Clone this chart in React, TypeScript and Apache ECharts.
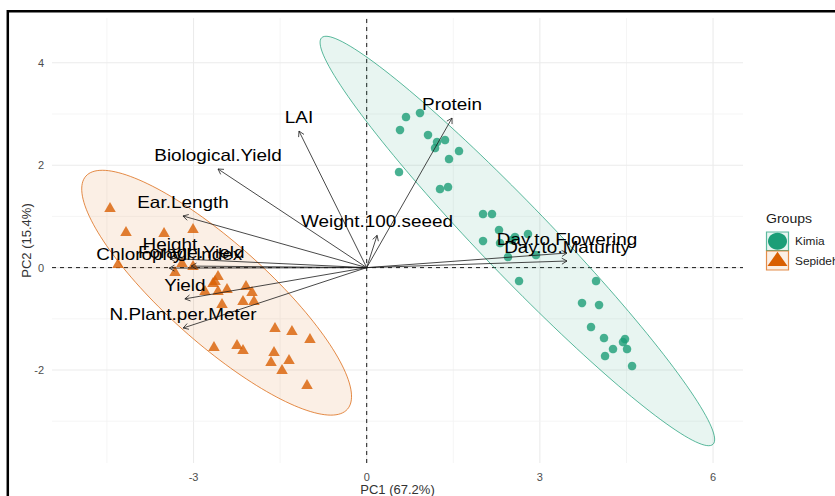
import React, { useEffect, useRef } from "react";
import * as echarts from "echarts";

const FONT = '"Liberation Sans", Arial, Helvetica, sans-serif';

// Kimia individuals (PC1, PC2)
const kimiaX = [0.681, 0.923, 0.577, 1.062, 1.218, 1.357, 1.184, 1.599, 1.426, 0.56, 1.27, 1.409, 2.015, 2.171, 2.292, 2.015, 2.569, 2.517, 2.794, 2.448, 2.933, 2.639, 3.973, 3.73, 4.025, 3.886, 4.111, 4.475, 4.44, 4.267, 4.51, 4.129, 4.597, 2.31];
const kimiaY = [2.941, 3.02, 2.688, 2.59, 2.453, 2.492, 2.336, 2.277, 2.121, 1.867, 1.535, 1.574, 1.047, 1.047, 0.734, 0.52, 0.598, 0.539, 0.656, 0.207, 0.246, -0.262, -0.262, -0.691, -0.73, -1.16, -1.375, -1.395, -1.453, -1.59, -1.59, -1.727, -1.922, 0.48];

// Sepideh individuals (PC1, PC2)
const sepidehX = [-4.447, -4.17, -3.511, -3.009, -4.309, -3.321, -3.2, -3.009, -2.576, -2.663, -2.42, -2.576, -2.802, -2.507, -2.091, -1.987, -2.143, -1.953, -1.589, -1.295, -0.983, -2.646, -2.247, -2.143, -1.606, -1.658, -1.346, -1.467, -1.034, -2.628];
const sepidehY = [1.184, 0.715, 0.695, 0.773, 0.09, -0.066, 0.109, 0.051, -0.145, -0.281, -0.398, -0.438, -0.438, -0.691, -0.34, -0.457, -0.633, -0.633, -1.16, -1.219, -1.375, -1.531, -1.492, -1.59, -1.629, -1.824, -1.785, -1.98, -2.273, -0.242];

// Variables (loadings arrows)
const varNames = ["LAI", "Biological.Yield", "Ear.Length", "Weight.100.seeed", "Protein", "Day.to.Flowering", "Day.to.Maturity", "Chlorophyll.Index", "Height", "Forage.Yield", "Yield", "N.Plant.per.Meter"];
const varX = [-1.173, -2.576, -3.183, 0.18, 1.478, 3.47, 3.47, -3.42, -3.41, -3.04, -3.15, -3.18];
const varY = [2.666, 1.926, 1.008, 0.63, 2.92, 0.285, 0.129, -0.01, 0.18, 0.03, -0.61, -1.18];

// Concentration ellipses: center, major conjugate axis, minor conjugate axis
const groupNames = ["Kimia", "Sepideh"];
const groupColors = ["#1b9e77", "#d95f02"];
const ellipseCenter = [[2.61, 0.52], [-2.6, -0.49]];
const ellipseMajor = [[3.39, -3.97], [2.265, -2.277]];
const ellipseMinor = [[0.437, 0.475], [0.577, 0.73]];

// Axes
const xMin = -5.452, xMax = 6.519, yMin = -3.816, yMax = 4.875;
const xTicks = [-3, 0, 3, 6];
const yTicks = [-2, 0, 2, 4];
const xGridMinor = [-4.5, -1.5, 1.5, 4.5];
const yGridMinor = [-3, -1, 1, 3];

const TXT_SX = 1.16;

export default function App() {
  const ref = useRef<HTMLDivElement>(null);
  useEffect(() => {
    if (!ref.current) return;
    const chart = echarts.init(ref.current, undefined, { renderer: "svg" });

    const vLine = (color: string, width: number, dash?: number[]) => (p: any, api: any) => {
      const a = api.coord([api.value(0), yMin]);
      const b = api.coord([api.value(0), yMax]);
      return { type: "line", shape: { x1: a[0], y1: a[1], x2: b[0], y2: b[1] }, style: { stroke: color, lineWidth: width, lineDash: dash } };
    };
    const hLine = (color: string, width: number, dash?: number[]) => (p: any, api: any) => {
      const a = api.coord([xMin, api.value(1)]);
      const b = api.coord([xMax, api.value(1)]);
      return { type: "line", shape: { x1: a[0], y1: a[1], x2: b[0], y2: b[1] }, style: { stroke: color, lineWidth: width, lineDash: dash } };
    };

    const option: any = {
      animation: false,
      backgroundColor: "#ffffff",
      grid: { left: 52, right: 92, top: 18, bottom: 33, containLabel: false, outerBoundsMode: "none" },
      xAxis: {
        type: "value", min: xMin, max: xMax,
        axisLine: { show: false }, axisTick: { show: false }, splitLine: { show: false },
        axisLabel: { customValues: xTicks, color: "#4d4d4d", fontSize: 11, fontFamily: FONT, margin: 8 },
        name: "PC1 (67.2%)", nameLocation: "middle", nameGap: 20, nameMoveOverlap: false,
        nameTextStyle: { color: "#333333", fontSize: 13, fontFamily: FONT },
      },
      yAxis: {
        type: "value", min: yMin, max: yMax,
        axisLine: { show: false }, axisTick: { show: false }, splitLine: { show: false },
        axisLabel: { customValues: yTicks, color: "#4d4d4d", fontSize: 11, fontFamily: FONT, margin: 8 },
        name: "PC2 (15.4%)", nameLocation: "middle", nameGap: 19, nameMoveOverlap: false,
        nameTextStyle: { color: "#333333", fontSize: 13, fontFamily: FONT },
      },
      series: [
        { type: "custom", silent: true, z: 0, data: xTicks.map((v) => [v, 0]), renderItem: vLine("#ebebeb", 1.1) },
        { type: "custom", silent: true, z: 0, data: xGridMinor.map((v) => [v, 0]), renderItem: vLine("#f2f2f2", 0.8) },
        { type: "custom", silent: true, z: 0, data: yTicks.map((v) => [0, v]), renderItem: hLine("#ebebeb", 1.1) },
        { type: "custom", silent: true, z: 0, data: yGridMinor.map((v) => [0, v]), renderItem: hLine("#f2f2f2", 0.8) },
        { type: "custom", silent: true, z: 1, data: [[0, 0]], renderItem: vLine("#000000", 0.9, [4, 4]) },
        { type: "custom", silent: true, z: 1, data: [[0, 0]], renderItem: hLine("#000000", 0.9, [4, 4]) },
        {
          type: "custom", silent: true, z: 2,
          data: groupNames.map((g, i) => [ellipseCenter[i][0], ellipseCenter[i][1]]),
          renderItem: (p: any, api: any) => {
            const i = p.dataIndex;
            const pts: number[][] = [];
            const n = 160;
            for (let k = 0; k < n; k++) {
              const t = (2 * Math.PI * k) / n;
              const c = Math.cos(t), s = Math.sin(t);
              const x = ellipseCenter[i][0] + c * ellipseMajor[i][0] + s * ellipseMinor[i][0];
              const y = ellipseCenter[i][1] + c * ellipseMajor[i][1] + s * ellipseMinor[i][1];
              pts.push(api.coord([x, y]));
            }
            const col = groupColors[i];
            return {
              type: "polygon", shape: { points: pts },
              style: { fill: i === 0 ? "rgba(27,158,119,0.1)" : "rgba(217,95,2,0.1)", stroke: col, lineWidth: 0.9, strokeOpacity: 0.8 },
            };
          },
        },
        {
          type: "scatter", name: "Kimia", z: 3, symbol: "circle", symbolSize: 8.5,
          itemStyle: { color: groupColors[0] },
          data: kimiaX.map((x, i) => [x, kimiaY[i]]),
        },
        {
          type: "scatter", name: "Sepideh", z: 3, symbol: "triangle", symbolSize: [11.5, 10],
          itemStyle: { color: groupColors[1] },
          data: sepidehX.map((x, i) => [x, sepidehY[i]]),
        },
        {
          type: "custom", silent: true, z: 4,
          data: varNames.map((n, i) => [varX[i], varY[i]]),
          renderItem: (p: any, api: any) => {
            const i = p.dataIndex;
            const o = api.coord([0, 0]);
            const t = api.coord([api.value(0), api.value(1)]);
            const dx = t[0] - o[0], dy = t[1] - o[1];
            const L = Math.hypot(dx, dy) || 1;
            const rx = -dx / L, ry = -dy / L;
            const h = 6, ang = Math.PI / 6;
            const ca = Math.cos(ang), sa = Math.sin(ang);
            const b1 = [t[0] + h * (rx * ca - ry * sa), t[1] + h * (rx * sa + ry * ca)];
            const b2 = [t[0] + h * (rx * ca + ry * sa), t[1] + h * (-rx * sa + ry * ca)];
            return {
              type: "group",
              children: [
                { type: "line", shape: { x1: o[0], y1: o[1], x2: t[0], y2: t[1] }, style: { stroke: "#1a1a1a", lineWidth: 0.8 } },
                { type: "polyline", shape: { points: [b1, t, b2] }, style: { stroke: "#1a1a1a", lineWidth: 0.8, fill: "none" } },
                {
                  type: "text", x: t[0], y: t[1] - 13.5, scaleX: TXT_SX,
                  style: { text: varNames[i], x: 0, y: 0, align: "center", verticalAlign: "middle", textAlign: "center", textVerticalAlign: "middle", font: `16.3px ${FONT}`, fill: "#000000" },
                },
              ],
            };
          },
        },
      ],
      graphic: [
        { type: "rect", silent: true, z: 10, shape: { x: 7.8, y: 11.3, width: 900, height: 600 }, style: { fill: "none", stroke: "#000000", lineWidth: 2.5 } },
        { type: "text", z: 10, x: 766, y: 219, scaleX: 1.08, style: { text: "Groups", x: 0, y: 0, align: "left", verticalAlign: "middle", textAlign: "left", textVerticalAlign: "middle", font: `13px ${FONT}`, fill: "#1a1a1a" } },
        { type: "rect", z: 10, shape: { x: 766.5, y: 232, width: 22, height: 18.5 }, style: { fill: "rgba(27,158,119,0.1)", stroke: "#1b9e77", lineWidth: 1.2, strokeOpacity: 0.7 } },
        { type: "ellipse", z: 11, shape: { cx: 777.5, cy: 241.3, rx: 9.5, ry: 8.5 }, style: { fill: "#1b9e77" } },
        { type: "rect", z: 10, shape: { x: 766.5, y: 251, width: 22, height: 19 }, style: { fill: "rgba(217,95,2,0.1)", stroke: "#d95f02", lineWidth: 1.2, strokeOpacity: 0.7 } },
        { type: "polygon", z: 11, shape: { points: [[777.5, 251.8], [767.5, 266], [787.5, 266]] }, style: { fill: "#d95f02" } },
        { type: "text", z: 10, x: 795, y: 241.5, scaleX: 1.08, style: { text: "Kimia", x: 0, y: 0, align: "left", verticalAlign: "middle", textAlign: "left", textVerticalAlign: "middle", font: `11px ${FONT}`, fill: "#1a1a1a" } },
        { type: "text", z: 10, x: 795, y: 261, scaleX: 1.08, style: { text: "Sepideh", x: 0, y: 0, align: "left", verticalAlign: "middle", textAlign: "left", textVerticalAlign: "middle", font: `11px ${FONT}`, fill: "#1a1a1a" } },
      ],
    };
    chart.setOption(option);
    return () => chart.dispose();
  }, []);
  return <div ref={ref} style={{ position: "fixed", left: 0, top: 0, width: 835, height: 496, background: "#fff" }} />;
}
